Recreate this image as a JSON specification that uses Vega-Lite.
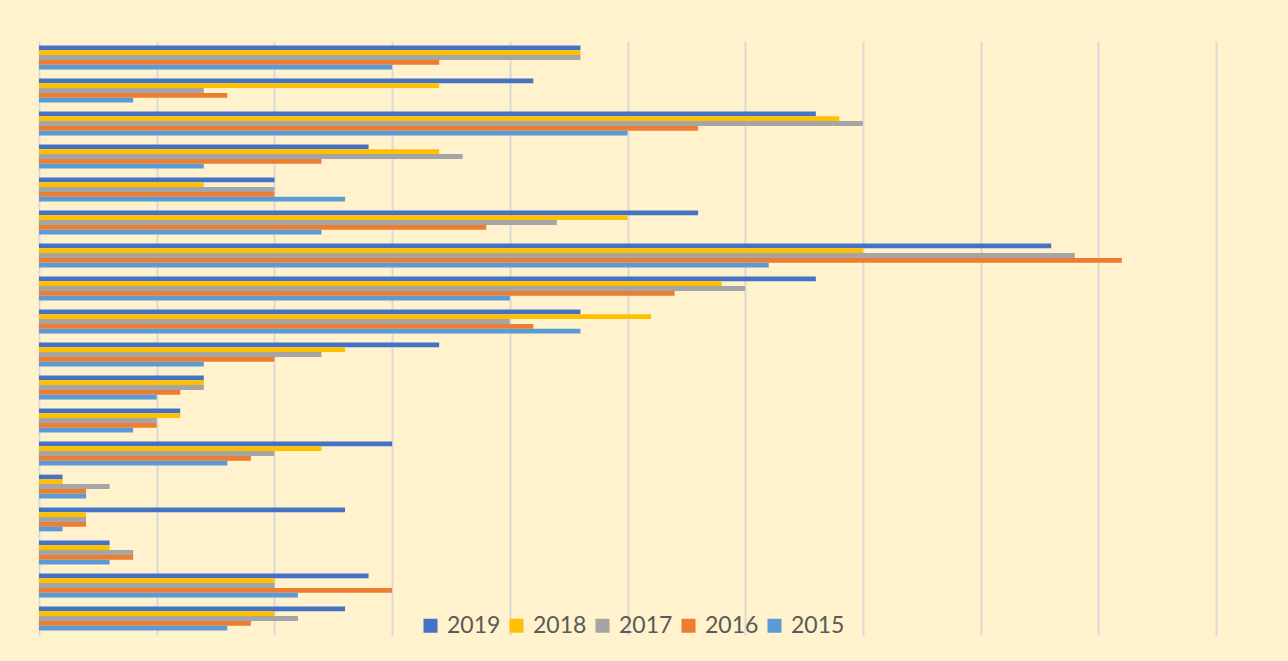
{
  "$schema": "https://vega.github.io/schema/vega-lite/v6.json",
  "width": 1177,
  "height": 594,
  "autosize": {"type": "none"},
  "padding": {"left": 39, "top": 41, "right": 72, "bottom": 26},
  "background": "#FFF2CC",
  "config": {"view": {"stroke": null}},
  "data": {"values": [
    {"c": "C01", "year": "2019", "v": 23}, {"c": "C01", "year": "2018", "v": 23}, {"c": "C01", "year": "2017", "v": 23}, {"c": "C01", "year": "2016", "v": 17}, {"c": "C01", "year": "2015", "v": 15},
    {"c": "C02", "year": "2019", "v": 21}, {"c": "C02", "year": "2018", "v": 17}, {"c": "C02", "year": "2017", "v": 7}, {"c": "C02", "year": "2016", "v": 8}, {"c": "C02", "year": "2015", "v": 4},
    {"c": "C03", "year": "2019", "v": 33}, {"c": "C03", "year": "2018", "v": 34}, {"c": "C03", "year": "2017", "v": 35}, {"c": "C03", "year": "2016", "v": 28}, {"c": "C03", "year": "2015", "v": 25},
    {"c": "C04", "year": "2019", "v": 14}, {"c": "C04", "year": "2018", "v": 17}, {"c": "C04", "year": "2017", "v": 18}, {"c": "C04", "year": "2016", "v": 12}, {"c": "C04", "year": "2015", "v": 7},
    {"c": "C05", "year": "2019", "v": 10}, {"c": "C05", "year": "2018", "v": 7}, {"c": "C05", "year": "2017", "v": 10}, {"c": "C05", "year": "2016", "v": 10}, {"c": "C05", "year": "2015", "v": 13},
    {"c": "C06", "year": "2019", "v": 28}, {"c": "C06", "year": "2018", "v": 25}, {"c": "C06", "year": "2017", "v": 22}, {"c": "C06", "year": "2016", "v": 19}, {"c": "C06", "year": "2015", "v": 12},
    {"c": "C07", "year": "2019", "v": 43}, {"c": "C07", "year": "2018", "v": 35}, {"c": "C07", "year": "2017", "v": 44}, {"c": "C07", "year": "2016", "v": 46}, {"c": "C07", "year": "2015", "v": 31},
    {"c": "C08", "year": "2019", "v": 33}, {"c": "C08", "year": "2018", "v": 29}, {"c": "C08", "year": "2017", "v": 30}, {"c": "C08", "year": "2016", "v": 27}, {"c": "C08", "year": "2015", "v": 20},
    {"c": "C09", "year": "2019", "v": 23}, {"c": "C09", "year": "2018", "v": 26}, {"c": "C09", "year": "2017", "v": 20}, {"c": "C09", "year": "2016", "v": 21}, {"c": "C09", "year": "2015", "v": 23},
    {"c": "C10", "year": "2019", "v": 17}, {"c": "C10", "year": "2018", "v": 13}, {"c": "C10", "year": "2017", "v": 12}, {"c": "C10", "year": "2016", "v": 10}, {"c": "C10", "year": "2015", "v": 7},
    {"c": "C11", "year": "2019", "v": 7}, {"c": "C11", "year": "2018", "v": 7}, {"c": "C11", "year": "2017", "v": 7}, {"c": "C11", "year": "2016", "v": 6}, {"c": "C11", "year": "2015", "v": 5},
    {"c": "C12", "year": "2019", "v": 6}, {"c": "C12", "year": "2018", "v": 6}, {"c": "C12", "year": "2017", "v": 5}, {"c": "C12", "year": "2016", "v": 5}, {"c": "C12", "year": "2015", "v": 4},
    {"c": "C13", "year": "2019", "v": 15}, {"c": "C13", "year": "2018", "v": 12}, {"c": "C13", "year": "2017", "v": 10}, {"c": "C13", "year": "2016", "v": 9}, {"c": "C13", "year": "2015", "v": 8},
    {"c": "C14", "year": "2019", "v": 1}, {"c": "C14", "year": "2018", "v": 1}, {"c": "C14", "year": "2017", "v": 3}, {"c": "C14", "year": "2016", "v": 2}, {"c": "C14", "year": "2015", "v": 2},
    {"c": "C15", "year": "2019", "v": 13}, {"c": "C15", "year": "2018", "v": 2}, {"c": "C15", "year": "2017", "v": 2}, {"c": "C15", "year": "2016", "v": 2}, {"c": "C15", "year": "2015", "v": 1},
    {"c": "C16", "year": "2019", "v": 3}, {"c": "C16", "year": "2018", "v": 3}, {"c": "C16", "year": "2017", "v": 4}, {"c": "C16", "year": "2016", "v": 4}, {"c": "C16", "year": "2015", "v": 3},
    {"c": "C17", "year": "2019", "v": 14}, {"c": "C17", "year": "2018", "v": 10}, {"c": "C17", "year": "2017", "v": 10}, {"c": "C17", "year": "2016", "v": 15}, {"c": "C17", "year": "2015", "v": 11},
    {"c": "C18", "year": "2019", "v": 13}, {"c": "C18", "year": "2018", "v": 10}, {"c": "C18", "year": "2017", "v": 11}, {"c": "C18", "year": "2016", "v": 9}, {"c": "C18", "year": "2015", "v": 8}
  ]},
  "mark": {"type": "bar"},
  "encoding": {
    "y": {
      "field": "c", "type": "nominal", "sort": null,
      "scale": {"paddingInner": 0.28, "paddingOuter": 0.14},
      "axis": null
    },
    "yOffset": {
      "field": "year", "type": "nominal",
      "scale": {"domain": ["2019", "2018", "2017", "2016", "2015"], "paddingInner": 0, "paddingOuter": 0}
    },
    "x": {
      "field": "v", "type": "quantitative",
      "scale": {"domain": [0, 50], "nice": false},
      "axis": {
        "values": [0, 5, 10, 15, 20, 25, 30, 35, 40, 45, 50],
        "labels": false, "ticks": false, "domain": false, "title": null,
        "grid": true, "gridColor": "#D9D9D9", "gridWidth": 2
      }
    },
    "color": {
      "field": "year", "type": "nominal",
      "scale": {"domain": ["2019", "2018", "2017", "2016", "2015"], "range": ["#4472C4", "#FFC000", "#A5A5A5", "#ED7D31", "#5B9BD5"]},
      "legend": {
        "orient": "none", "direction": "horizontal", "legendX": 380, "legendY": 573,
        "title": null, "symbolType": "square", "symbolSize": 196, "symbolStrokeWidth": 0,
        "labelFont": "Lato", "labelFontSize": 23, "labelColor": "#595959",
        "labelOffset": 5, "columnPadding": 4, "padding": 0
      }
    }
  }
}
